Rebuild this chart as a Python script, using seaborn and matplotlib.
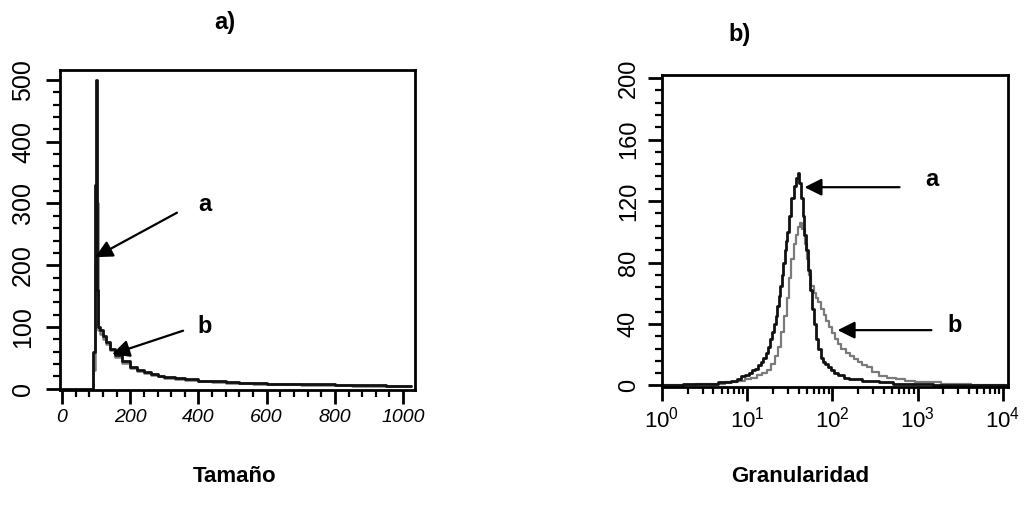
import numpy as np
import matplotlib
matplotlib.use("Agg")
import matplotlib.pyplot as plt
import seaborn as sns
import pandas as pd
from matplotlib.ticker import MultipleLocator, LogLocator, NullFormatter

# ---------------- data ----------------
# Panel a) size histogram (channel vs counts)
size_ch = [0, 92, 96, 97, 98, 99, 100, 101, 103, 106, 112, 120, 130, 140, 155,
           175, 200, 220, 240, 260, 280, 300, 330, 360, 400, 440, 480, 520,
           560, 600, 650, 700, 750, 800, 850, 900, 950, 1000, 1023]
size_a = [0, 60, 80, 170, 330, 170, 330, 500, 160, 100, 95, 85, 75, 65, 55,
          45, 35, 31, 27, 24, 21, 19, 17, 15, 13, 12, 11, 10,
          9, 8, 8, 7, 7, 6, 6, 6, 5, 5, 5]
size_b = [0, 30, 40, 80, 200, 250, 200, 300, 300, 95, 88, 80, 72, 63, 52,
          42, 33, 29, 25, 22, 20, 18, 16, 14, 12, 11, 10, 9,
          8, 8, 7, 6, 6, 6, 5, 5, 5, 4, 4]

# Panel b) granularity histogram (log channel vs counts)
gran_x_a = [1, 1.5, 2, 3, 4, 5, 6, 7, 8, 9, 10, 11, 12, 13, 14, 15, 16, 17,
            18, 19, 20, 21, 22, 23, 24, 25, 26, 27, 28, 29, 30, 32, 34, 36,
            38, 40, 42, 44, 46, 48, 50, 53, 56, 59, 62, 66, 70, 75, 80, 85,
            90, 100, 110, 125, 145, 170, 200, 245, 300, 400, 620, 1000, 2000,
            11000]
gran_a = [0, 0, 1, 1, 1, 2, 2, 3, 4, 6, 7, 8, 10, 11, 13, 15, 18, 21,
          25, 30, 35, 40, 45, 52, 58, 65, 72, 80, 88, 94, 100, 110, 122, 130,
          135, 138, 132, 122, 110, 98, 88, 75, 62, 50, 40, 30, 24, 18, 15, 14,
          12, 10, 8, 7, 5, 4, 4, 3, 3, 2, 1, 1, 0,
          0]
gran_x_b = [1, 2, 3, 4, 5, 6, 7, 8, 9, 10, 12, 14, 16, 18, 20, 22, 24, 26,
            28, 30, 32, 34, 36, 38, 40, 43, 46, 49, 52, 55, 58, 62, 66, 70,
            76, 82, 88, 95, 102, 110, 120, 135, 150, 170, 190, 210, 240, 270,
            320, 390, 480, 620, 800, 1050, 1500, 2300, 3500, 5000, 11000]
gran_b = [0, 0, 1, 1, 1, 2, 2, 3, 3, 4, 5, 7, 8, 10, 14, 19, 25, 35,
          45, 57, 70, 82, 92, 98, 103, 106, 102, 92, 82, 72, 65, 60, 57, 54,
          50, 46, 42, 38, 34, 30, 27, 24, 21, 19, 17, 15, 13, 12,
          9, 6, 5, 4, 3, 2, 2, 1, 1, 0, 0]

size_ticks = [0, 200, 400, 600, 800, 1000]
size_yticks = [0, 100, 200, 300, 400, 500]
gran_yticks = [0, 40, 80, 120, 160, 200]
gran_xticks = [1, 10, 100, 1000, 10000]

# ---------------- style ----------------
sns.set_theme(style="ticks")
plt.rcParams['font.family'] = ['Liberation Sans', 'DejaVu Sans']
plt.rcParams['mathtext.default'] = 'regular'
for k in ('text.color', 'axes.labelcolor', 'xtick.color', 'ytick.color'):
    plt.rcParams[k] = 'black'

fig = plt.figure(figsize=(10.26, 5.08), dpi=100)
W, H = 1026, 508

def add_ax(l, t, r, b):
    return fig.add_axes([l / W, 1 - b / H, (r - l) / W, (b - t) / H])

ax1 = add_ax(60, 70, 415, 390)
ax2 = add_ax(662, 75, 1008, 387)

BLACK = '#111111'
GRAY = '#7a7a7a'

df_a = pd.DataFrame({'ch': size_ch, 'a': size_a, 'b': size_b})
sns.lineplot(data=df_a, x='ch', y='b', ax=ax1, color=GRAY, lw=1.8,
             drawstyle='steps-post')
sns.lineplot(data=df_a, x='ch', y='a', ax=ax1, color=BLACK, lw=2.0,
             drawstyle='steps-post')

sns.lineplot(x=gran_x_b, y=gran_b, ax=ax2, color=GRAY, lw=1.6,
             drawstyle='steps-mid')
sns.lineplot(x=gran_x_a, y=gran_a, ax=ax2, color=BLACK, lw=2.0,
             drawstyle='steps-mid')

# ---- panel a axes ----
ax1.set_xlim(-6, 1035)
ax1.set_ylim(-2, 516)
ax1.set_xticks(size_ticks)
ax1.set_yticks(size_yticks)
ax1.xaxis.set_minor_locator(MultipleLocator(40))
ax1.yaxis.set_minor_locator(MultipleLocator(20))
ax1.set_xlabel('')
ax1.set_ylabel('')

# ---- panel b axes ----
ax2.set_xscale('log')
ax2.set_xlim(1, 10 ** 4.06)
ax2.set_ylim(-1, 202)
ax2.set_xticks(gran_xticks)
ax2.set_yticks(gran_yticks)
ax2.xaxis.set_minor_locator(LogLocator(base=10, subs=np.arange(2, 10)))
ax2.xaxis.set_minor_formatter(NullFormatter())
ax2.yaxis.set_minor_locator(MultipleLocator(8))
ax2.set_xlabel('')
ax2.set_ylabel('')

for ax in (ax1, ax2):
    for s in ax.spines.values():
        s.set_visible(True)
        s.set_linewidth(2.0)
        s.set_color('black')
    ax.tick_params(axis='both', which='major', length=10, width=2,
                   direction='out', color='black', labelcolor='black')
    ax.tick_params(axis='both', which='minor', length=5, width=1.6,
                   direction='out', color='black')
    ax.tick_params(top=False, right=False, which='both')
    ax.tick_params(axis='y', labelrotation=90)
    for lab in ax.get_yticklabels():
        lab.set_va('center')

ax1.tick_params(axis='y', labelsize=18, pad=8)
ax1.tick_params(axis='x', labelsize=14, pad=4)
for lab in ax1.get_xticklabels():
    lab.set_fontstyle('italic')
ax2.tick_params(axis='y', labelsize=17, pad=6)
ax2.tick_params(axis='x', labelsize=16, pad=4)

# ---- annotations ----
arrow = dict(arrowstyle='-|>', mutation_scale=26, lw=1.6, color='black',
             shrinkA=0, shrinkB=0)
ax1.annotate('', xy=(97, 213), xytext=(337, 285), arrowprops=arrow)
ax1.text(419, 298, 'a', fontsize=17, fontweight='bold', ha='center', va='center')
ax1.annotate('', xy=(147, 56), xytext=(355, 94), arrowprops=arrow)
ax1.text(419, 100, 'b', fontsize=17, fontweight='bold', ha='center', va='center')

ax2.annotate('', xy=(47, 129), xytext=(613, 129), arrowprops=arrow)
ax2.text(1450, 134, 'a', fontsize=17, fontweight='bold', ha='center', va='center')
ax2.annotate('', xy=(115, 36), xytext=(1450, 36), arrowprops=arrow)
ax2.text(2730, 39, 'b', fontsize=17, fontweight='bold', ha='center', va='center')

# ---- titles and labels ----
fig.text(225 / W, 1 - 22 / H, 'a)', fontsize=17, fontweight='bold',
         ha='center', va='center')
fig.text(740 / W, 1 - 35 / H, 'b)', fontsize=17, fontweight='bold',
         ha='center', va='center')
fig.text(235 / W, 1 - 476 / H, 'Tamaño', fontsize=16, fontweight='bold',
         ha='center', va='center')
fig.text(800 / W, 1 - 476 / H, 'Granularidad', fontsize=16, fontweight='bold',
         ha='center', va='center')

fig.savefig('out.png', dpi=100, facecolor='white')
